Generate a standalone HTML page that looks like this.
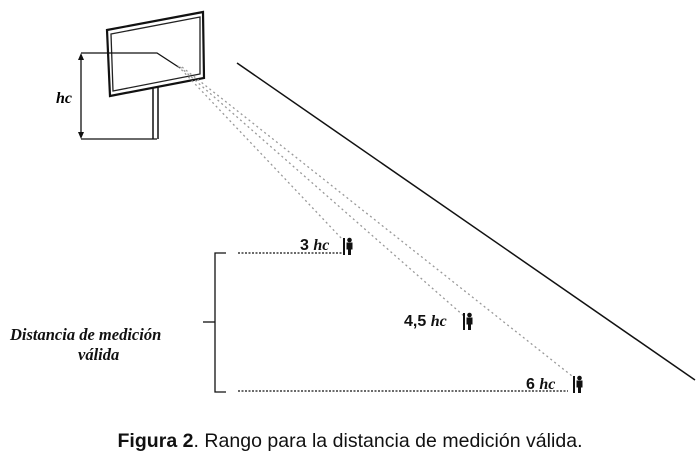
<!DOCTYPE html>
<html><head><style>
body{margin:0;background:#fff;width:700px;height:464px;overflow:hidden}
svg{display:block}
</style></head><body>
<svg width="700" height="464" xmlns="http://www.w3.org/2000/svg">
<defs>
<g id="p"><rect x="-5" y="-16" width="2" height="17" fill="#111"/><circle cx="1.5" cy="-14" r="2.3" fill="#111"/><path d="M-1.5,-11.5 h6 v7 h-1.5 v5.5 h-3 v-5.5 h-1.5z" fill="#111"/></g>
</defs>
<polygon points="107,30 203,12 204,78 110,96" fill="#fff" stroke="#111" stroke-width="2.2"/>
<polygon points="111,34 200,17 200,74 113,91" fill="none" stroke="#222" stroke-width="1.3"/>
<line x1="153" y1="87" x2="153" y2="139" stroke="#111" stroke-width="1.5"/>
<line x1="158" y1="86" x2="158" y2="139" stroke="#111" stroke-width="1.5"/>
<polyline points="81,139 157,139" fill="none" stroke="#111" stroke-width="1.3"/>
<polyline points="81,53 157,53 180,68" fill="none" stroke="#111" stroke-width="1.3"/>
<line x1="81" y1="56" x2="81" y2="136" stroke="#111" stroke-width="1.3"/>
<path d="M78,60 L81,53 L84,60Z M78,132 L81,139 L84,132Z" fill="#111"/>
<text x="56" y="103" font-family="Liberation Serif,serif" font-style="italic" font-weight="bold" font-size="16">hc</text>
<g stroke="#999" stroke-width="1.3" stroke-dasharray="2,3" fill="none">
<line x1="178" y1="66" x2="343" y2="240"/>
<line x1="180" y1="67" x2="464" y2="316"/>
<line x1="182" y1="67" x2="572" y2="376"/>
</g>
<line x1="237" y1="63" x2="695" y2="380" stroke="#111" stroke-width="1.5"/>
<polyline points="226,253 215,253 215,392 226,392" fill="none" stroke="#111" stroke-width="1.3"/>
<line x1="203" y1="322" x2="215" y2="322" stroke="#111" stroke-width="1.3"/>
<line x1="238" y1="253" x2="343" y2="253" stroke="#111" stroke-width="1.3" stroke-dasharray="2,1.5"/>
<line x1="238" y1="391" x2="568" y2="391" stroke="#111" stroke-width="1.3" stroke-dasharray="2,1.5"/>
<g font-family="Liberation Sans,sans-serif" font-weight="bold" font-size="16" fill="#111">
<text x="300" y="250">3 <tspan font-family="Liberation Serif,serif" font-style="italic">hc</tspan></text>
<text x="404" y="326">4,5 <tspan font-family="Liberation Serif,serif" font-style="italic">hc</tspan></text>
<text x="526" y="389">6 <tspan font-family="Liberation Serif,serif" font-style="italic">hc</tspan></text>
</g>
<use href="#p" x="348" y="254"/>
<use href="#p" x="468" y="329"/>
<use href="#p" x="578" y="392"/>
<g font-family="Liberation Serif,serif" font-style="italic" font-weight="bold" font-size="16.5" fill="#111">
<text x="10" y="340">Distancia de medición</text>
<text x="78" y="360">válida</text>
</g>
<text x="350" y="447" text-anchor="middle" font-family="Liberation Sans,sans-serif" font-size="19.5" fill="#111" textLength="465"><tspan font-weight="bold">Figura 2</tspan>. Rango para la distancia de medición válida.</text>
</svg>
</body></html>
